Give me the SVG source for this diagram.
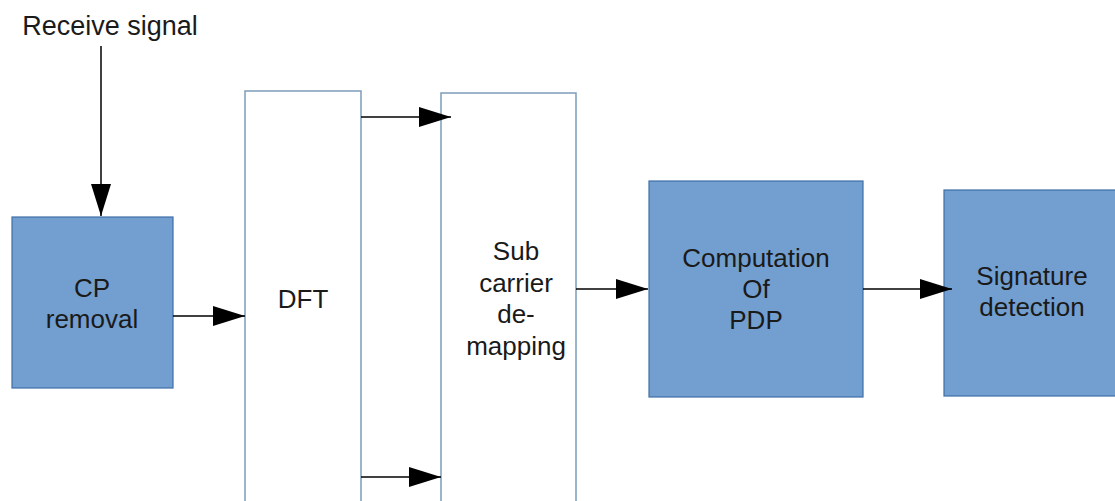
<svg xmlns="http://www.w3.org/2000/svg" width="1115" height="501" viewBox="0 0 1115 501">
  <style>
    .blue { fill: #729fcf; stroke: #3f6fa8; stroke-width: 1.2; }
    .open { fill: #ffffff; stroke: #7d9dbb; stroke-width: 1.5; }
    .lbl { font-family: "Liberation Sans", Arial, sans-serif; font-size: 26px; fill: #1a1a1a; text-anchor: middle; }
    .wire { stroke: #000000; stroke-width: 1.5; fill: none; marker-end: url(#head); }
  </style>
  <defs>
    <marker id="head" markerWidth="32" markerHeight="20" refX="32" refY="10" orient="auto" markerUnits="userSpaceOnUse">
      <path d="M0,0 L32,10 L0,20 Z" fill="#000000"/>
    </marker>
  </defs>

  <rect width="1115" height="501" fill="#ffffff"/>

  <text x="110" y="35" class="lbl" style="font-size:27px">Receive signal</text>

  <g id="cp-removal">
    <rect x="12" y="217" width="161" height="171" class="blue"/>
    <text x="92" y="297" class="lbl">CP</text>
    <text x="92" y="328" class="lbl">removal</text>
  </g>

  <g id="dft">
    <rect x="245" y="91" width="116" height="420" class="open"/>
    <text x="303" y="308" class="lbl">DFT</text>
  </g>

  <g id="subcarrier-demapping">
    <rect x="441" y="93" width="135" height="420" class="open"/>
    <text x="516" y="260" class="lbl">Sub</text>
    <text x="516" y="292" class="lbl">carrier</text>
    <text x="516" y="323" class="lbl">de-</text>
    <text x="516" y="355" class="lbl">mapping</text>
  </g>

  <g id="pdp">
    <rect x="649" y="181" width="214" height="216" class="blue"/>
    <text x="756" y="267" class="lbl">Computation</text>
    <text x="756" y="298" class="lbl">Of</text>
    <text x="756" y="329" class="lbl">PDP</text>
  </g>

  <g id="signature-detection">
    <rect x="944" y="190" width="180" height="206" class="blue"/>
    <text x="1032" y="285" class="lbl">Signature</text>
    <text x="1032" y="316" class="lbl">detection</text>
  </g>

  <g id="connectors">
    <line x1="101" y1="46" x2="101" y2="216" class="wire"/>
    <line x1="173" y1="316" x2="245" y2="316" class="wire"/>
    <line x1="361" y1="117" x2="451" y2="117" class="wire"/>
    <line x1="361" y1="477" x2="441" y2="477" class="wire"/>
    <line x1="576" y1="289" x2="648" y2="289" class="wire"/>
    <line x1="863" y1="289" x2="952" y2="289" class="wire"/>
  </g>
</svg>
